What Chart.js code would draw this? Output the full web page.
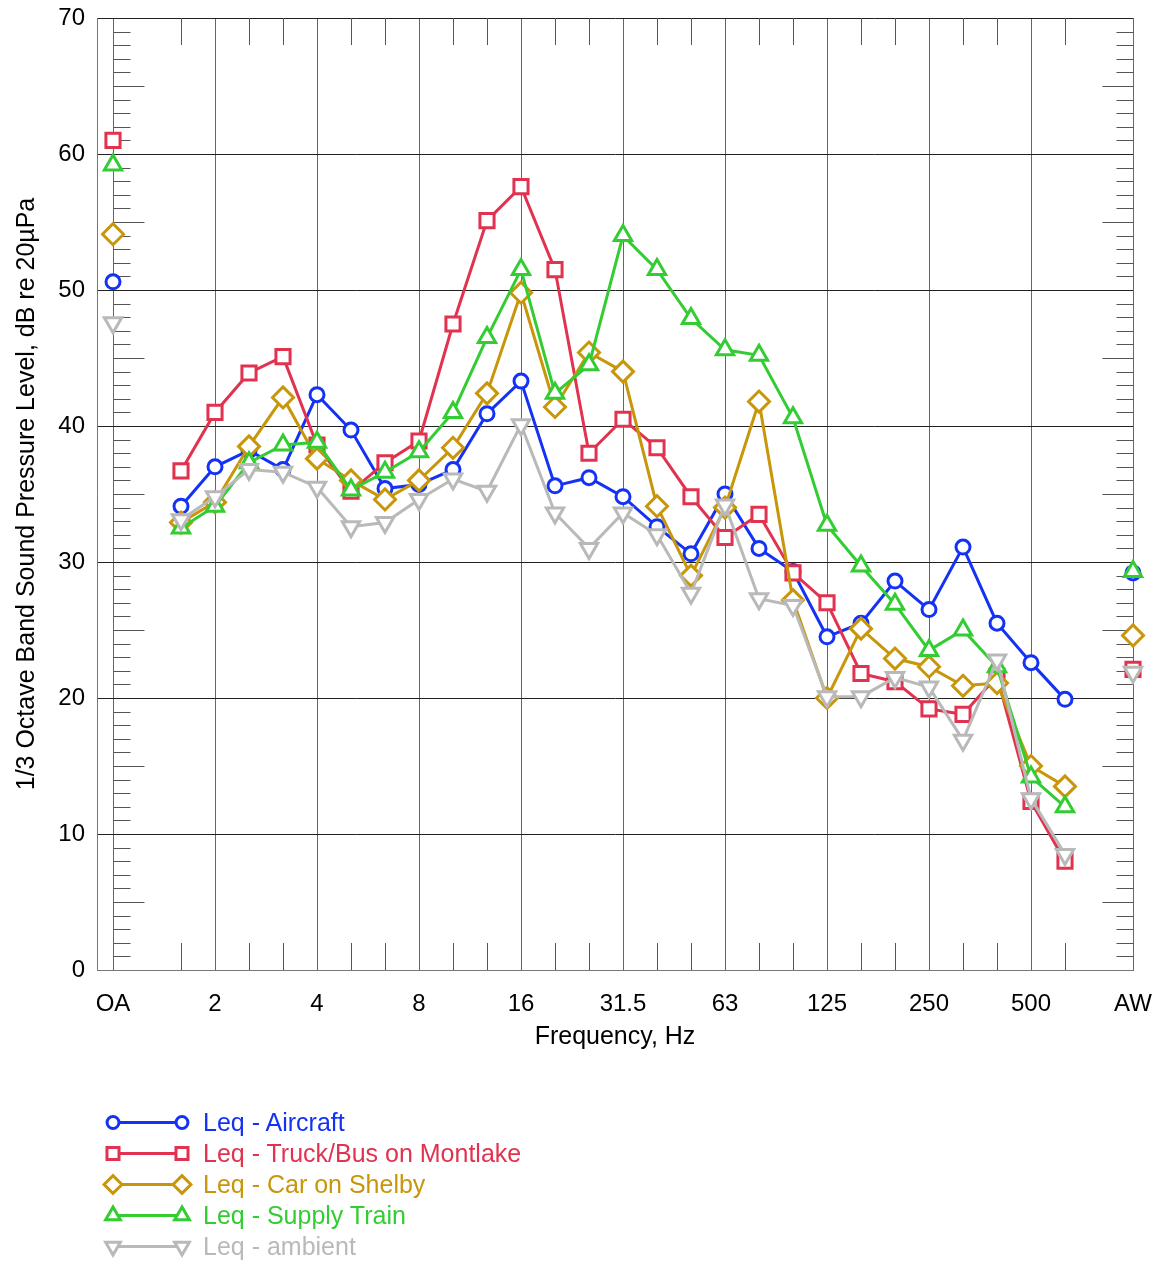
<!DOCTYPE html>
<html>
<head>
<meta charset="utf-8">
<script src="https://cdn.jsdelivr.net/npm/chart.js@4/dist/chart.umd.min.js"></script>
<style>
  body { margin: 0; background: #fff; }
  #wrap { position: relative; width: 1155px; height: 1263px; }
  #legend { position: absolute; left: 100px; top: 1107px; font-family: "Liberation Sans", Arial, sans-serif; font-size: 25px; }
  .row { height: 31px; display: flex; align-items: center; white-space: nowrap; }
  .row canvas { width: 100px; height: 31px; }
  .row span { margin-left: 3px; }
</style>
</head>
<body>
<div id="wrap">
  <canvas id="spl" width="1155" height="1263"></canvas>
  <div id="legend"></div>
</div>
<script>
// 1/3 octave band centres, with overall (OA) and A-weighted (AW) at the ends
const bands = ['OA', '1.25', '1.6', '2', '2.5', '3.15', '4', '5', '6.3', '8', '10', '12.5', '16', '20', '25',
  '31.5', '40', '50', '63', '80', '100', '125', '160', '200', '250', '315', '400', '500', '630', '800', 'AW'];
const labelled = [0, 3, 6, 9, 12, 15, 18, 21, 24, 27, 30];
const yTicks = [0, 10, 20, 30, 40, 50, 60, 70];

const aircraft = [50.6, null, 34.1, 37.0, 38.2, 36.8, 42.3, 39.7, 35.4, 35.7, 36.8, 40.9, 43.3, 35.6, 36.2,
  34.8, 32.6, 30.6, 35.0, 31.0, 29.3, 24.5, 25.5, 28.6, 26.5, 31.1, 25.5, 22.6, 19.9, null, 29.2];
const truckBus = [61.0, null, 36.7, 41.0, 43.9, 45.1, 38.6, 35.2, 37.3, 38.9, 47.5, 55.1, 57.6, 51.5, 38.0,
  40.5, 38.4, 34.8, 31.8, 33.5, 29.2, 27.0, 21.8, 21.2, 19.2, 18.8, 21.6, 12.4, 8.0, null, 22.1];
const carShelby = [54.1, null, 32.9, 34.4, 38.5, 42.1, 37.6, 36.0, 34.6, 36.0, 38.4, 42.4, 49.8, 41.4, 45.4,
  44.0, 34.1, 29.0, 34.0, 41.8, 27.2, 20.0, 25.1, 22.9, 22.3, 20.9, 21.1, 15.0, 13.5, null, 24.6];
const supplyTrain = [59.2, null, 32.5, 34.1, 37.3, 38.6, 38.8, 35.3, 36.6, 38.1, 41.0, 46.5, 51.5, 42.4, 44.5,
  54.0, 51.5, 47.9, 45.6, 45.2, 40.6, 32.7, 29.7, 26.9, 23.5, 25.0, 22.3, 14.2, 12.0, null, 29.3];
const ambient = [47.6, null, 33.1, 34.8, 36.8, 36.6, 35.5, 32.6, 32.9, 34.6, 36.1, 35.2, 40.1, 33.6, 31.0,
  33.6, 32.0, 27.7, 34.2, 27.3, 26.8, 20.1, 20.1, 21.5, 20.8, 16.9, 22.8, 12.6, 8.5, null, 21.9];

const FONT = '"Liberation Sans", Arial, sans-serif';

const series = [
  { label: 'Leq - Aircraft', data: aircraft, color: '#1432f5', style: 'circle', radius: 7, rot: 0 },
  { label: 'Leq - Truck/Bus on Montlake', data: truckBus, color: '#e1324f', style: 'rect', radius: 10, rot: 0 },
  { label: 'Leq - Car on Shelby', data: carShelby, color: '#c8960a', style: 'rectRot', radius: 10.5, rot: 0 },
  { label: 'Leq - Supply Train', data: supplyTrain, color: '#33cc33', style: 'triangle', radius: 10, rot: 0 },
  { label: 'Leq - ambient', data: ambient, color: '#b9b9b9', style: 'triangle', radius: 10, rot: 180 }
];

const datasets = series.map((s, i) => ({
  label: s.label,
  data: s.data.map((v, j) => ({ x: j, y: v })),
  borderColor: s.color,
  backgroundColor: '#fff',
  borderWidth: 3,
  pointStyle: s.style,
  pointRadius: s.radius,
  pointRotation: s.rot,
  pointBorderWidth: 3,
  pointBackgroundColor: '#fff',
  pointBorderColor: s.color,
  spanGaps: false,
  tension: 0,
  clip: false,
  order: series.length - i
}));

// short third-octave ticks along top/bottom and 1 dB ticks on the OA and AW lines
const minorTicks = {
  id: 'minorTicks',
  beforeDatasetsDraw(chart) {
    const { ctx, chartArea: a, scales: { x, y } } = chart;
    ctx.save();
    ctx.strokeStyle = '#555';
    ctx.lineWidth = 1;
    ctx.beginPath();
    for (let i = 2; i <= 28; i++) {
      if (labelled.includes(i)) continue;
      const px = Math.round(x.getPixelForValue(i)) + 0.5;
      ctx.moveTo(px, a.bottom); ctx.lineTo(px, a.bottom - 27);
      ctx.moveTo(px, a.top); ctx.lineTo(px, a.top + 27);
    }
    const xl = Math.round(x.getPixelForValue(0)) + 0.5;
    const xr = Math.round(x.getPixelForValue(30)) + 0.5;
    for (let v = 1; v < 70; v++) {
      if (v % 10 === 0) continue;
      const py = Math.round(y.getPixelForValue(v)) + 0.5;
      const len = v % 5 === 0 ? 31 : 17;
      ctx.moveTo(xl, py); ctx.lineTo(xl + len, py);
      ctx.moveTo(xr, py); ctx.lineTo(xr - len, py);
    }
    ctx.stroke();
    ctx.restore();
  }
};

const chart = new Chart(document.getElementById('spl'), {
  type: 'line',
  data: { datasets },
  plugins: [minorTicks],
  options: {
    responsive: false,
    animation: false,
    devicePixelRatio: 1,
    layout: { padding: { top: 18, right: 22, bottom: 211, left: 0 } },
    plugins: { legend: { display: false }, tooltip: { enabled: false } },
    scales: {
      x: {
        type: 'linear',
        min: -16 / 34,
        max: 30,
        afterFit(scale) {
          scale.height = 82;
          scale.paddingLeft = 0;
          scale.paddingRight = 0;
        },
        afterBuildTicks(scale) { scale.ticks = labelled.map(v => ({ value: v })); },
        grid: { color: '#666', lineWidth: 1, drawTicks: false },
        border: { color: '#777', width: 1 },
        ticks: {
          autoSkip: false,
          maxRotation: 0,
          padding: 20,
          color: '#000',
          font: { family: FONT, size: 24 },
          callback: v => bands[v]
        },
        title: { display: true, text: 'Frequency, Hz', color: '#000', padding: 0, font: { family: FONT, size: 25 } }
      },
      y: {
        min: 0,
        max: 70,
        afterFit(scale) {
          scale.width = 97;
          scale.paddingTop = 0;
          scale.paddingBottom = 0;
        },
        afterBuildTicks(scale) { scale.ticks = yTicks.map(v => ({ value: v })); },
        grid: { color: '#222', lineWidth: 1, drawTicks: false },
        border: { color: '#777', width: 1 },
        ticks: { padding: 12, color: '#000', font: { family: FONT, size: 24 } },
        title: {
          display: true,
          text: '1/3 Octave Band Sound Pressure Level, dB re 20\u00b5Pa',
          color: '#000',
          padding: { top: 12, bottom: 0 },
          font: { family: FONT, size: 25 }
        }
      }
    }
  }
});

// legend rows: line with a marker at each end, label in the series colour
const legendBox = document.getElementById('legend');
series.forEach(s => {
  const row = document.createElement('div');
  row.className = 'row';
  const c = document.createElement('canvas');
  c.width = 100; c.height = 31;
  const g = c.getContext('2d');
  g.strokeStyle = s.color;
  g.lineWidth = 3;
  g.beginPath(); g.moveTo(13, 15.5); g.lineTo(82, 15.5); g.stroke();
  g.fillStyle = '#fff';
  [13, 82].forEach(px => {
    Chart.helpers.drawPoint(g, { pointStyle: s.style, radius: s.radius * 0.85, rotation: s.rot, borderWidth: 3 }, px, 15.5);
  });
  const t = document.createElement('span');
  t.textContent = s.label;
  t.style.color = s.color;
  row.appendChild(c);
  row.appendChild(t);
  legendBox.appendChild(row);
});
</script>
</body>
</html>
